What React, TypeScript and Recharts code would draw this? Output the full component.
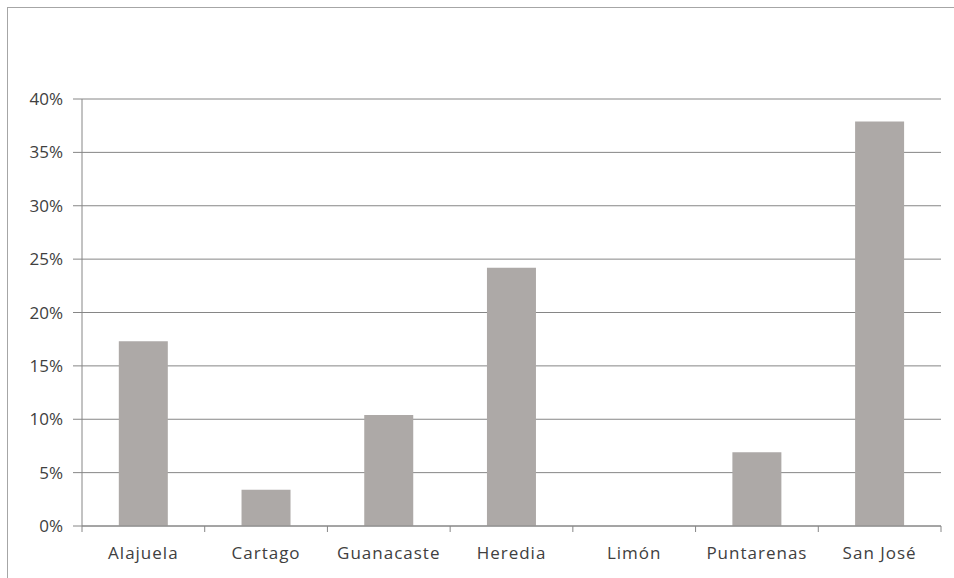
import { BarChart, Bar, XAxis, YAxis, CartesianGrid } from "recharts"

const provinces = ["Alajuela", "Cartago", "Guanacaste", "Heredia", "Limón", "Puntarenas", "San José"]
const shares = [0.173, 0.034, 0.104, 0.242, 0, 0.069, 0.379]
const yTicks = [0, 0.05, 0.1, 0.15, 0.2, 0.25, 0.3, 0.35, 0.4]

const BAR_COLOR = "#ada9a7"
const LINE_COLOR = "#868686"
const TEXT_COLOR = "#404040"
const FONT = "'Open Sans', sans-serif"

const W = 954
const H = 578
const PLOT_LEFT = 82
const PLOT_RIGHT = 941
const BAND = (PLOT_RIGHT - PLOT_LEFT) / provinces.length

const data = provinces.map((name, i) => ({ name, value: shares[i] }))

function CategoryTick(props: any) {
  const { x, y, payload, index } = props
  const left = x - BAND / 2
  const right = x + BAND / 2
  return (
    <g>
      <line x1={left} y1={y} x2={left} y2={y + 6} stroke={LINE_COLOR} />
      {index === provinces.length - 1 && (
        <line x1={right} y1={y} x2={right} y2={y + 6} stroke={LINE_COLOR} />
      )}
      <text
        x={x}
        y={y + 33}
        textAnchor="middle"
        fill={TEXT_COLOR}
        fontSize={17}
        fontFamily={FONT}
        letterSpacing={1}
      >
        {payload.value}
      </text>
    </g>
  )
}

export default function App() {
  return (
    <div style={{ position: "absolute", left: 0, top: 0, width: W, height: H, background: "#fff" }}>
      <div
        style={{
          position: "absolute",
          left: 7,
          top: 7,
          width: W - 7,
          height: H - 7,
          borderTop: "1px solid #a6a6a6",
          borderLeft: "1px solid #a6a6a6",
          boxSizing: "border-box",
        }}
      />
      <BarChart
        width={W}
        height={H}
        data={data}
        margin={{ top: 99, right: W - PLOT_RIGHT, bottom: 0, left: 0 }}
        barCategoryGap="30%"
        style={{ position: "absolute", left: 0, top: 0 }}
      >
        <CartesianGrid vertical={false} stroke={LINE_COLOR} />
        <XAxis
          dataKey="name"
          height={52}
          axisLine={{ stroke: LINE_COLOR }}
          tickLine={false}
          tickSize={0}
          tickMargin={0}
          interval={0}
          tick={<CategoryTick />}
        />
        <YAxis
          width={PLOT_LEFT}
          domain={[0, 0.4]}
          ticks={yTicks}
          interval={0}
          axisLine={{ stroke: LINE_COLOR }}
          tickLine={{ stroke: LINE_COLOR }}
          tickSize={9}
          tickMargin={10}
          tickFormatter={(v: number) => `${Math.round(v * 100)}%`}
          tick={{ fill: TEXT_COLOR, fontSize: 17, fontFamily: FONT }}
        />
        <Bar dataKey="value" fill={BAR_COLOR} isAnimationActive={false} />
      </BarChart>
    </div>
  )
}
